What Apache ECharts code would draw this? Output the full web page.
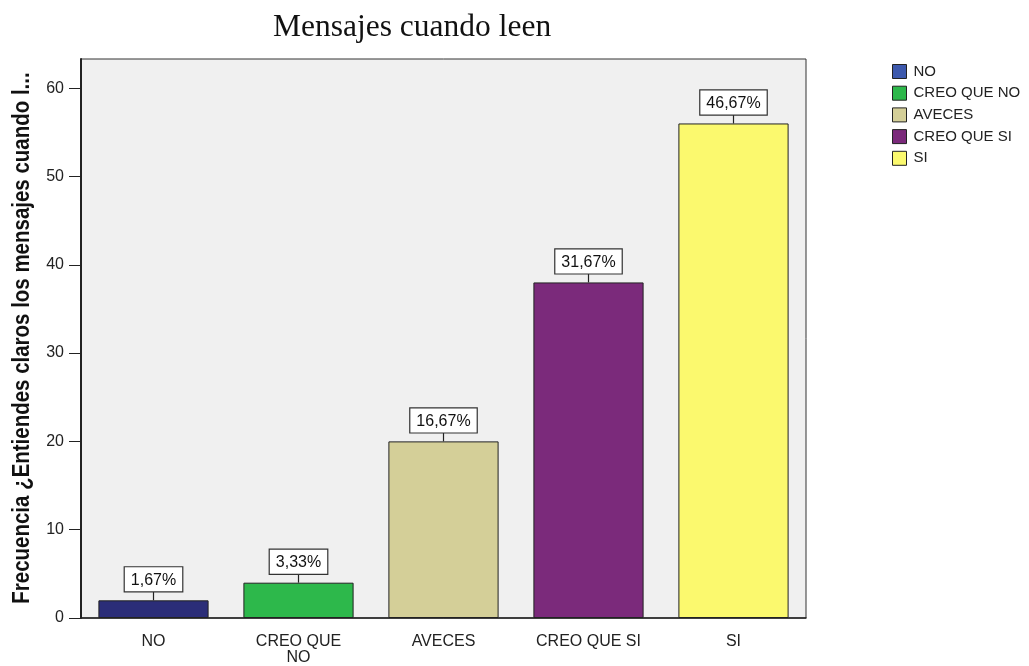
<!DOCTYPE html>
<html><head><meta charset="utf-8">
<script src="https://cdn.jsdelivr.net/npm/echarts@6/dist/echarts.min.js"></script>
<style>html,body{margin:0;padding:0;background:#fff}#c{width:1029px;height:666px}</style>
</head><body><div id="c"></div>
<script>
const categories = ['NO', 'CREO QUE\nNO', 'AVECES', 'CREO QUE SI', 'SI'];
const legendNames = ['NO', 'CREO QUE NO', 'AVECES', 'CREO QUE SI', 'SI'];
const values = [2, 4, 20, 38, 56];
const percentLabels = ['1,67%', '3,33%', '16,67%', '31,67%', '46,67%'];
const yTicks = [0, 10, 20, 30, 40, 50, 60];
const yName = 'Frecuencia ¿Entiendes claros los mensajes cuando l...';
const barColors = ['#2b2d78', '#2db84b', '#d4cf98', '#7b2a7b', '#fbf96e'];
const legendColors = ['#3d59ad', '#2db84b', '#d4cf98', '#7b2a7b', '#fbf96e'];

const series = legendNames.map((n, i) => ({
  name: n, type: 'bar', stack: 'all', barCategoryGap: '24%',
  data: values.map((v, j) => j === i ? v : '-'),
  itemStyle: { color: barColors[i], borderColor: '#222', borderWidth: 1 },
  silent: true, animation: false
}));
series.push({
  type: 'custom', animation: false, silent: true,
  encode: { x: 0, y: 1 },
  data: values.map((v, i) => [i, v]),
  renderItem: function (params, api) {
    const p = api.coord([api.value(0), api.value(1)]);
    const idx = params.dataIndex;
    return {
      type: 'group', children: [
        { type: 'line', shape: { x1: p[0], y1: p[1], x2: p[0], y2: p[1] - 9 }, style: { stroke: '#222', lineWidth: 1.2 } },
        { type: 'text', x: p[0], y: p[1] - 9, style: {
          text: percentLabels[idx], align: 'center', verticalAlign: 'bottom',
          backgroundColor: '#fff', borderColor: '#333', borderWidth: 1.2,
          padding: [5, 6, 3, 6], font: '16px "Liberation Sans", Arial', fill: '#111'
        } }
      ]
    };
  }
});

const chart = echarts.init(document.getElementById('c'), null, { renderer: 'canvas' });
chart.setOption({
  animation: false,
  backgroundColor: '#fff',
  title: { text: 'Mensajes cuando leen', left: 268, top: 7,
    textStyle: { fontFamily: '"Liberation Serif", "Times New Roman", serif', fontSize: 31.5, fontWeight: 'normal', color: '#111' } },
  legend: {
    orient: 'vertical', left: 887, top: 59, itemWidth: 14, itemHeight: 14, itemGap: 6.7,
    icon: 'rect',
    data: legendNames.map((n, i) => ({ name: n, itemStyle: { color: legendColors[i], borderColor: '#222', borderWidth: 1 } })),
    textStyle: { fontFamily: '"Liberation Sans", Arial', fontSize: 15, color: '#222', padding: [0, 0, 0, 2] }
  },
  grid: { left: 81, right: 223, top: 59, bottom: 45, show: true, backgroundColor: '#f0f0f0', borderColor: '#333', borderWidth: 1 },
  graphic: [{
    type: 'text', x: 22, y: 338, rotation: Math.PI / 2, scaleX: 0.853, silent: true,
    style: { text: yName, font: 'bold 24px "Liberation Sans", Arial', fill: '#111', align: 'center', verticalAlign: 'middle' }
  }],
  xAxis: {
    type: 'category', data: categories,
    axisLine: { lineStyle: { color: '#222', width: 1.5 } },
    axisTick: { alignWithLabel: true, length: 11, lineStyle: { color: '#222' } },
    axisLabel: { fontFamily: '"Liberation Sans", Arial', fontSize: 16, color: '#222', margin: 16, lineHeight: 16 }
  },
  yAxis: {
    type: 'value', min: 0, max: 63.3, interval: 10,
    axisLine: { show: true, lineStyle: { color: '#222', width: 2 } },
    axisTick: { show: true, length: 12, lineStyle: { color: '#222' }, customValues: yTicks },
    splitLine: { show: false },
    axisLabel: { fontFamily: '"Liberation Sans", Arial', fontSize: 16, color: '#222', margin: 17, customValues: yTicks }
  },
  series: series
});
</script></body></html>
